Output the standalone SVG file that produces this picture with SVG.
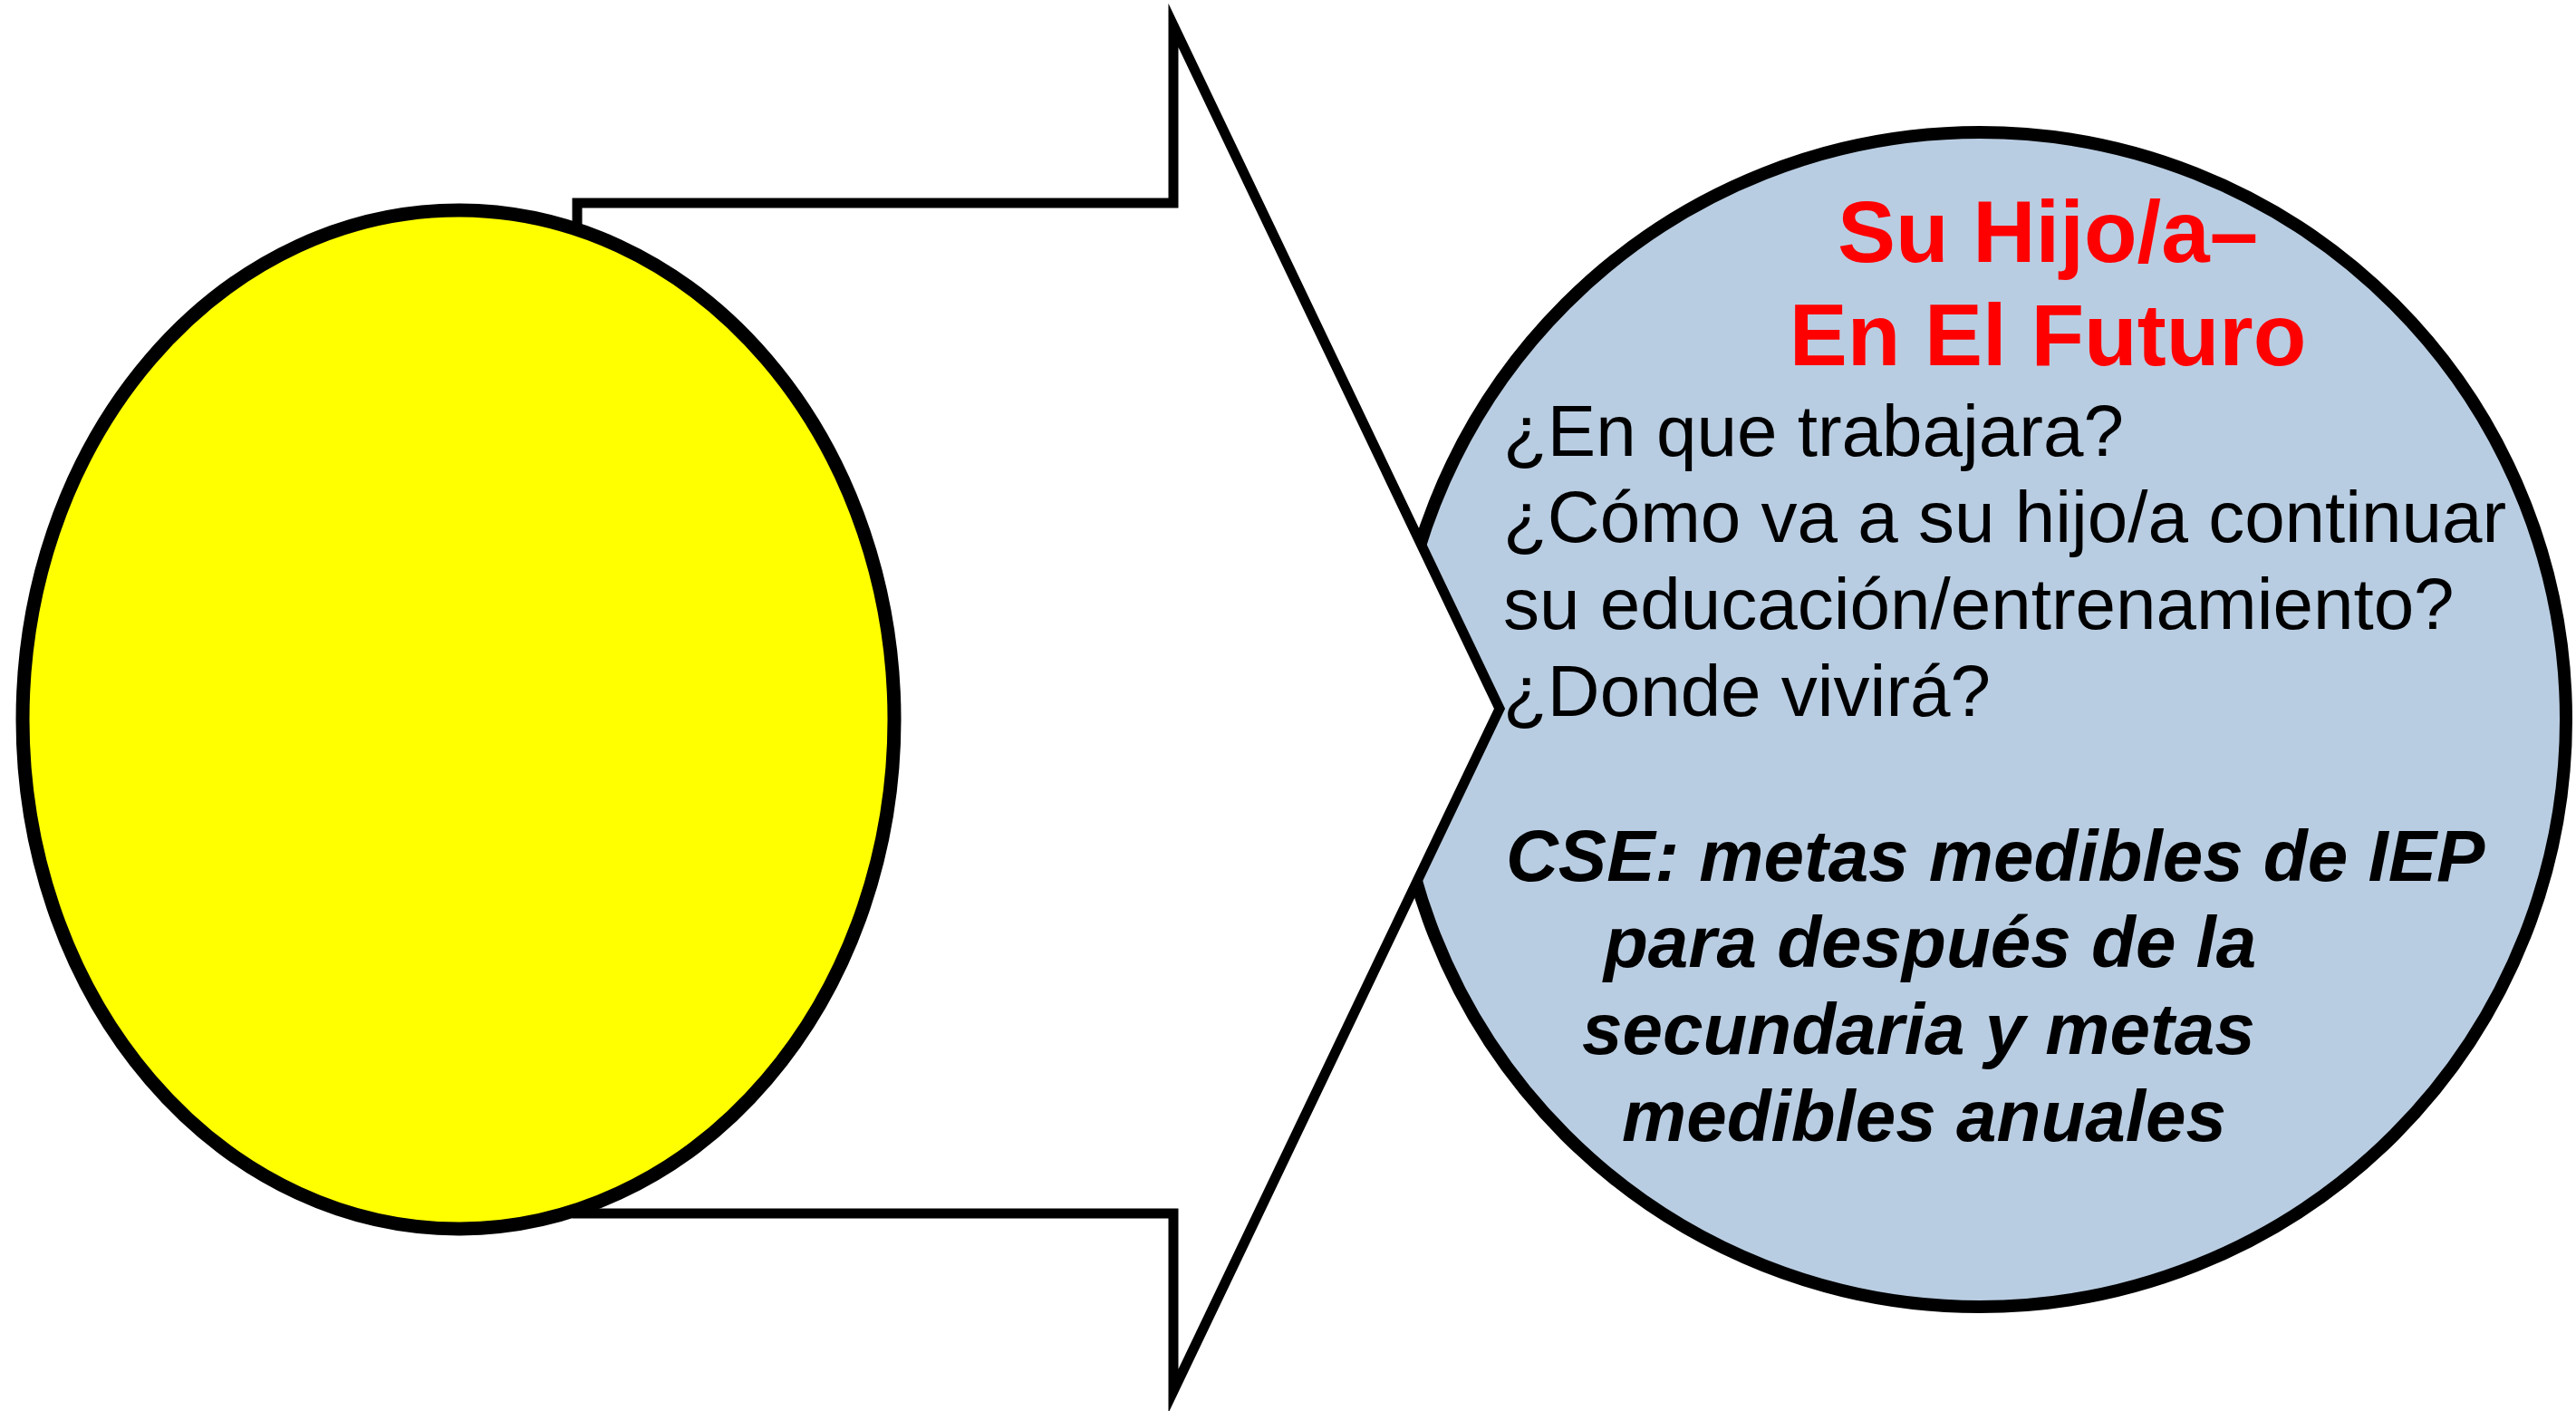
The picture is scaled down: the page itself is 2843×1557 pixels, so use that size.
<svg xmlns="http://www.w3.org/2000/svg" width="2843" height="1557" viewBox="0 0 2843 1557">
  <style>
    .title { font-family: "Liberation Sans", Arial, sans-serif; font-weight: bold; font-size: 96px; fill: #FF0000; text-anchor: middle; }
    .q { font-family: "Liberation Sans", Arial, sans-serif; font-size: 80px; fill: #000000; }
    .cse { font-family: "Liberation Sans", Arial, sans-serif; font-weight: bold; font-style: italic; font-size: 80px; fill: #000000; }
  </style>
  <rect x="0" y="0" width="2843" height="1557" fill="#FFFFFF"/>

  <g id="future-circle">
    <ellipse cx="2185" cy="794" rx="647" ry="648" fill="#B9CDE2" stroke="#000000" stroke-width="14"/>
  </g>

  <g id="connectors">
    <polygon points="637,224 1295,224 1295,28 1655,782 1295,1535 1295,1339 637,1339" fill="#FFFFFF" stroke="#000000" stroke-width="11" stroke-linejoin="miter" stroke-miterlimit="10"/>
  </g>

  <g id="present-ellipse">
    <ellipse cx="506" cy="794" rx="481" ry="562" fill="#FFFF00" stroke="#000000" stroke-width="15"/>
  </g>

  <g id="future-text">
    <text class="title" x="2260" y="289">Su Hijo/a–</text>
    <text class="title" x="2260" y="403">En El Futuro</text>
    <text class="q" x="1659" y="503">¿En que trabajara?</text>
    <text class="q" x="1659" y="598">¿Cómo va a su hijo/a continuar</text>
    <text class="q" x="1659" y="694">su educación/entrenamiento?</text>
    <text class="q" x="1659" y="790">¿Donde vivirá?</text>
    <text class="cse" x="1662" y="972">CSE: metas medibles de IEP</text>
    <text class="cse" x="1770" y="1067">para después de la</text>
    <text class="cse" x="1746" y="1163">secundaria y metas</text>
    <text class="cse" x="1790" y="1259">medibles anuales</text>
  </g>
</svg>
